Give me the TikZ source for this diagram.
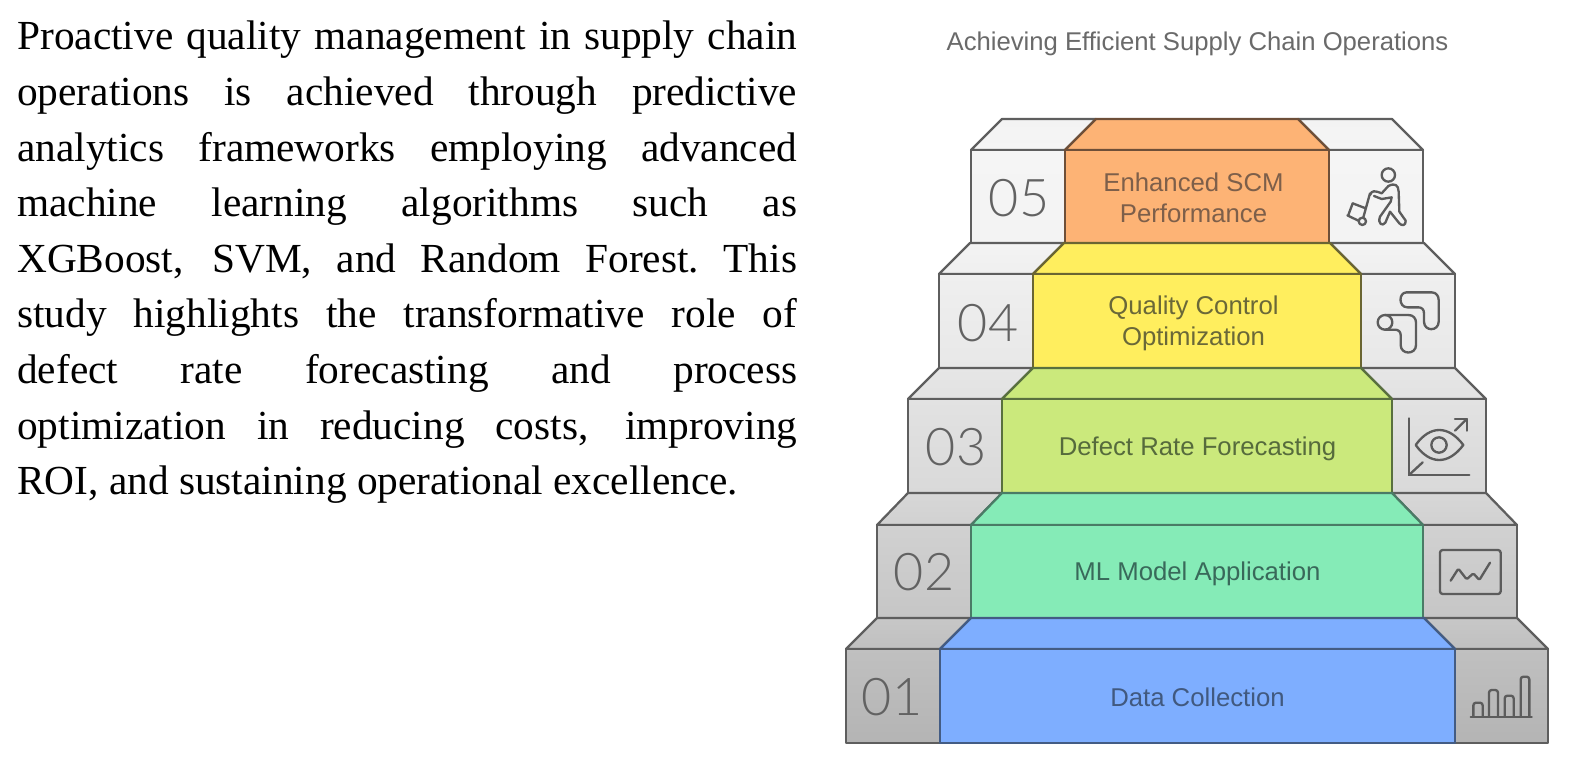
\documentclass[tikz,border=0pt]{standalone}
\usepackage{fontspec}
\setmainfont{Liberation Serif}
\newfontfamily\labelf{Liberation Sans}
\newfontfamily\numf{Lato Light}
\usetikzlibrary{calc}
\newcommand{\jl}[1]{\hbox to 585pt{\spaceskip=.2em plus 1fil\xspaceskip=.2em plus 1fil\relax #1}}
\definecolor{edgegray}{HTML}{5E5E5E}
\definecolor{iconc}{HTML}{5C5C5C}
\definecolor{numc}{HTML}{626262}
\definecolor{titlec}{HTML}{6A6A6A}
\definecolor{orangeF}{HTML}{FDB375}
\definecolor{yellowF}{HTML}{FFEE5E}
\definecolor{greenF}{HTML}{CBE97C}
\definecolor{mintF}{HTML}{85EBB7}
\definecolor{blueF}{HTML}{7EAEFF}
\definecolor{orangeE}{HTML}{6E4F38}
\definecolor{yellowE}{HTML}{6A6532}
\definecolor{greenE}{HTML}{59703E}
\definecolor{mintE}{HTML}{4A7B66}
\definecolor{blueE}{HTML}{435C84}
\definecolor{orangeT}{HTML}{7D5F4A}
\definecolor{yellowT}{HTML}{6A6838}
\definecolor{greenT}{HTML}{566B3C}
\definecolor{mintT}{HTML}{39695A}
\definecolor{blueT}{HTML}{41597F}
\tikzset{
  iconline/.style={draw=iconc,line width=1.75pt,line join=round,line cap=round,fill=none},
  steplabel/.style={font=\labelf\fontsize{19.3}{23.3}\selectfont,align=center,inner sep=0pt},
  stepnum/.style={font=\numf\fontsize{39}{39}\selectfont,text=numc,inner sep=0pt},
  zoomed/.style={x=.25pt,y=-.25pt},
}
% args: y-top-face, y-front, y-bottom, xL, xM, xR, xO, gray top of bevel, gray bevel-bottom / front-top (name+c is front-bottom)
\newcommand{\tier}[9]{%
  \path[draw=edgegray,line width=1.7pt,line join=round,top color=#8,bottom color=#9]
    (#4,#2) -- (#4+31,#1) -- (#5+31,#1) -- (#5,#2) -- cycle;
  \path[draw=edgegray,line width=1.7pt,line join=round,top color=#8,bottom color=#9]
    (#7,#2) -- (#7-31,#1) -- (#6-31,#1) -- (#6,#2) -- cycle;
  \path[draw=edgegray,line width=1.7pt,line join=round,top color=#9,bottom color=#9c]
    (#4,#2) rectangle (#5,#3);
  \path[draw=edgegray,line width=1.7pt,line join=round,top color=#9,bottom color=#9c]
    (#6,#2) rectangle (#7,#3);
}
\begin{document}
\begin{tikzpicture}[x=.75pt,y=-.75pt]
\useasboundingbox (0,0) rectangle (1571,771);
\fill[white] (0,0) rectangle (1571,771);

\node[anchor=north west,inner sep=0pt] (para) at (17,21) {\vbox{\fontsize{31}{41.7}\selectfont
  \jl{Proactive quality management in supply chain}
  \jl{operations is achieved through predictive}
  \jl{analytics frameworks employing advanced}
  \jl{machine learning algorithms such as}
  \jl{XGBoost, SVM, and Random Forest. This}
  \jl{study highlights the transformative role of}
  \jl{defect rate forecasting and process}
  \jl{optimization in reducing costs, improving}
  \hbox{ROI, and sustaining operational excellence.}}};

\node[font=\labelf\fontsize{19.25}{25}\selectfont,text=titlec,inner sep=0pt] (title) at (1197.5,44) {Achieving Efficient Supply Chain Operations};

% gray side blocks
\definecolor{g5a}{HTML}{F3F3F3}\definecolor{g5b}{HTML}{F5F5F5}\definecolor{g5bc}{HTML}{F3F3F3}
\definecolor{g4a}{HTML}{F3F3F3}\definecolor{g4b}{HTML}{EFEFEF}\definecolor{g4bc}{HTML}{E8E8E8}
\definecolor{g3a}{HTML}{E6E6E6}\definecolor{g3b}{HTML}{E2E2E2}\definecolor{g3bc}{HTML}{D9D9D9}
\definecolor{g2a}{HTML}{D7D7D7}\definecolor{g2b}{HTML}{D1D1D1}\definecolor{g2bc}{HTML}{C6C6C6}
\definecolor{g1a}{HTML}{C7C7C7}\definecolor{g1b}{HTML}{C0C0C0}\definecolor{g1bc}{HTML}{B4B4B4}
\tier{119}{150}{243}{971}{1065}{1329}{1423}{g5a}{g5b}
\tier{243}{274}{368}{939}{1033}{1361}{1455}{g4a}{g4b}
\tier{368}{399}{493}{908}{1002}{1392}{1486}{g3a}{g3b}
\tier{493}{525}{618}{877}{971}{1423}{1517}{g2a}{g2b}
\tier{618}{649}{743}{846}{940}{1455}{1548}{g1a}{g1b}

% coloured centres
\foreach \yt/\yf/\yb/\xm/\xr/\cc in {119/150/243/1065/1329/orange,243/274/368/1033/1361/yellow,368/399/493/1002/1392/green,493/525/618/971/1423/mint,618/649/743/940/1455/blue}{
  \filldraw[fill=\cc F,draw=\cc E,line width=1.7pt,line join=round]
    (\xm,\yf) -- (\xm+31,\yt) -- (\xr-31,\yt) -- (\xr,\yf) -- cycle;
  \filldraw[fill=\cc F,draw=\cc E,line width=1.7pt,line join=round]
    (\xm,\yf) rectangle (\xr,\yb);
}

\node[stepnum] (n5) at (1019,198) {05};
\node[stepnum] (n4) at (988,323) {04};
\node[stepnum] (n3) at (956,447) {03};
\node[stepnum] (n2) at (924,572) {02};
\node[stepnum] (n1) at (892,697) {01};

\node[steplabel,text=orangeT] (l5) at (1193.5,198) {Enhanced SCM\\Performance};
\node[steplabel,text=yellowT] (l4) at (1193.5,323) {Quality Control\\Optimization};
\node[steplabel,text=greenT] (l3) at (1197.5,449) {Defect Rate Forecasting};
\node[steplabel,text=mintT] (l2) at (1197.5,574) {ML Model Application};
\node[steplabel,text=blueT] (l1) at (1197.5,697) {Data Collection};

% person with cart
\begin{scope}[shift={(1200,100)},zoomed]
  \draw[iconline] (565,225) circle (20);
  \draw[iconline] (510,285) .. controls (515,270) and (525,272) .. (545,280) -- (565,258)
    .. controls (585,248) and (595,255) .. (596,275) -- (598,335) -- (617,362)
    .. controls (618,378) and (605,378) .. (598,370) -- (570,335) -- (556,368)
    .. controls (548,380) and (532,372) .. (540,350) -- (572,305) -- (575,292) -- (545,297) -- (522,288);
  \draw[iconline] (510,280) -- (490,352);
  \draw[iconline] (442,346) -- (475,362);
  \draw[iconline] (445,345) -- (458,310) -- (497,325);
  \draw[iconline] (487,364) circle (11);
\end{scope}
% bends
\begin{scope}[shift={(1200,100)},zoomed]
  \draw[iconline] (620,577) -- (695,577) .. controls (710,577) and (716,590) .. (716,600) -- (716,665)
    .. controls (716,695) and (672,695) .. (672,665) -- (672,640) .. controls (672,628) and (665,622) .. (655,622)
    -- (622,622) .. controls (595,622) and (595,577) .. (620,577) -- cycle;
  \draw[iconline] (555,667) circle (22);
  \draw[iconline] (556,645) -- (625,645) .. controls (640,645) and (648,655) .. (648,668) -- (648,735)
    .. controls (648,765) and (602,765) .. (602,735) -- (602,705) .. controls (602,695) and (595,689) .. (585,689) -- (556,689);
\end{scope}
% eye and axes
\begin{scope}[shift={(1200,370)},zoomed]
  \draw[iconline] (627,145) -- (627,315) -- (808,315);
  \draw[iconline] (627,315) -- (668,277);
  \draw[iconline] (765,182) -- (800,147);
  \draw[iconline] (765,147) -- (800,147) -- (800,182);
  \draw[iconline] (647,225) .. controls (690,165) and (745,165) .. (790,225) .. controls (745,285) and (690,285) .. (647,225) -- cycle;
  \draw[iconline] (717,225) circle (23);
\end{scope}
% monitor
\begin{scope}[shift={(1200,370)},zoomed]
  \draw[iconline,rounded corners=2pt] (720,540) rectangle (902,672);
  \draw[iconline,rounded corners=1pt] (752,632) -- (775,596) -- (800,628) -- (820,610) -- (838,630) -- (870,578);
\end{scope}
% bars
\begin{scope}[shift={(1200,370)},zoomed]
  \draw[iconline] (812,1040) -- (995,1040);
  \draw[iconline,rounded corners=2pt] (820,1040) -- (820,998) -- (848,998) -- (848,1040);
  \draw[iconline,rounded corners=2pt] (867,1040) -- (867,960) -- (894,960) -- (894,1040);
  \draw[iconline,rounded corners=2pt] (914,1040) -- (914,977) -- (941,977) -- (941,1040);
  \draw[iconline,rounded corners=2pt] (962,1040) -- (962,920) -- (988,920) -- (988,1040);
\end{scope}
\end{tikzpicture}
\end{document}
